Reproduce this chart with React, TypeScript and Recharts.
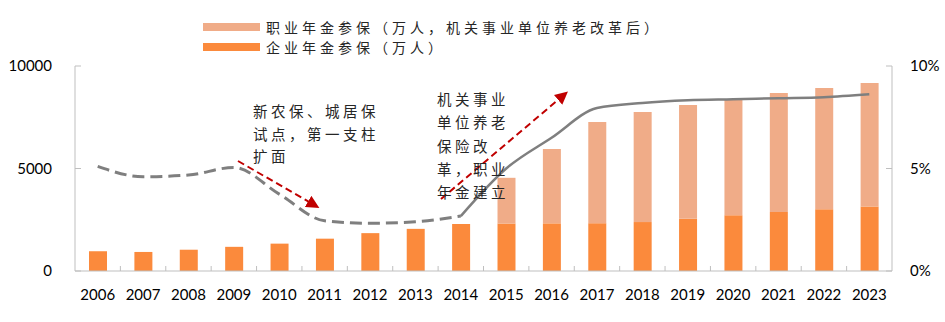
import { ComposedChart, Bar, Line, XAxis, YAxis } from 'recharts';

const years = ['2006', '2007', '2008', '2009', '2010', '2011', '2012', '2013', '2014', '2015', '2016', '2017', '2018', '2019', '2020', '2021', '2022', '2023'];
// 企业年金参保（万人）
const enterprise = [964, 929, 1038, 1179, 1335, 1577, 1847, 2056, 2293, 2316, 2325, 2331, 2388, 2548, 2718, 2875, 3010, 3144];
// 职业年金参保（万人），2015 年机关事业单位养老改革后
const occupational = [null, null, null, null, null, null, null, null, null, 2230, 3630, 4940, 5370, 5550, 5660, 5810, 5920, 6030];
// 右轴比例（%），改革前虚线、改革后实线
const ratioBefore = [5.1, 4.6, 4.68, 5.05, 3.75, 2.45, 2.33, 2.4, 2.68, null, null, null, null, null, null, null, null, null];
const ratioAfter = [null, null, null, null, null, null, null, null, 2.68, 5.0, 6.5, 7.95, 8.2, 8.33, 8.38, 8.43, 8.48, 8.62];
const leftTicks = [0, 5000, 10000];
const rightTicks = [0, 5, 10];

const legendItems = [
  { label: '职业年金参保（万人，机关事业单位养老改革后）', color: '#F0AC88' },
  { label: '企业年金参保（万人）', color: '#FB8A3C' },
];
const noteRural = ['新农保、城居保', '试点，第一支柱', '扩面'];
const noteReform = ['机关事业', '单位养老', '保险改', '革，职业', '年金建立'];

const data = years.map((year, i) => ({
  year,
  enterprise: enterprise[i],
  occupational: occupational[i],
  before: ratioBefore[i],
  after: ratioAfter[i],
}));

const W = 945;
const H = 322;
const PLOT_LEFT = 75;
const PLOT_RIGHT = 892;
const PLOT_BOTTOM = 271;
const BAND = (PLOT_RIGHT - PLOT_LEFT) / years.length;
const AXIS_GREY = '#BFBFBF';
const FONT = 'Lato, "Noto Sans", sans-serif';
const CJK = '"Noto Sans CJK SC", sans-serif';

// eslint-disable-next-line @typescript-eslint/no-explicit-any
const YearTick = (props: any) => {
  const { x, payload, index } = props;
  const bx = x + BAND / 2;
  return (
    <g>
      {index < years.length - 1 && (
        <line x1={bx} x2={bx} y1={PLOT_BOTTOM} y2={PLOT_BOTTOM - 5} stroke={AXIS_GREY} />
      )}
      <text x={x} y={PLOT_BOTTOM + 29} textAnchor="middle" fontSize={15} fontFamily={FONT} fill="#000">
        {payload.value}
      </text>
    </g>
  );
};

export default function App() {
  return (
    <div style={{ position: 'absolute', left: 0, top: 0, width: W, height: H, background: '#fff' }}>
      <ComposedChart
        width={W}
        height={H}
        data={data}
        margin={{ top: 66, right: 3, bottom: 21, left: 15 }}
        barSize={18}
      >
        <XAxis
          dataKey="year"
          height={30}
          axisLine={{ stroke: AXIS_GREY }}
          tickLine={false}
          interval={0}
          tick={<YearTick />}
        />
        <YAxis
          yAxisId="left"
          width={60}
          domain={[0, 10000]}
          ticks={leftTicks}
          axisLine={{ stroke: AXIS_GREY }}
          tickLine={{ stroke: AXIS_GREY }}
          tickSize={-6}
          tickMargin={29}
          tick={{ fontSize: 15, fontFamily: FONT, fill: '#000' }}
        />
        <YAxis
          yAxisId="right"
          orientation="right"
          width={50}
          domain={[0, 10]}
          ticks={rightTicks}
          tickFormatter={(v) => `${v}%`}
          axisLine={{ stroke: AXIS_GREY }}
          tickLine={{ stroke: AXIS_GREY }}
          tickSize={-6}
          tickMargin={24}
          tick={{ fontSize: 15, fontFamily: FONT, fill: '#000', textAnchor: 'start' }}
        />
        <Bar yAxisId="left" dataKey="enterprise" stackId="a" fill="#FB8A3C" isAnimationActive={false} />
        <Bar yAxisId="left" dataKey="occupational" stackId="a" fill="#F0AC88" isAnimationActive={false} />
        <Line
          yAxisId="right"
          type="monotone"
          dataKey="before"
          stroke="#7F7F7F"
          strokeWidth={3}
          strokeDasharray="12 6"
          dot={false}
          connectNulls={false}
          isAnimationActive={false}
        />
        <Line
          yAxisId="right"
          type="monotone"
          dataKey="after"
          stroke="#7F7F7F"
          strokeWidth={2.5}
          dot={false}
          connectNulls={false}
          isAnimationActive={false}
        />
      </ComposedChart>

      <div style={{ position: 'absolute', left: 203, top: 17, fontFamily: CJK, fontSize: 14, color: '#262626' }}>
        {legendItems.map((item) => (
          <div key={item.label} style={{ display: 'flex', alignItems: 'center', height: 20 }}>
            <div style={{ width: 57, height: 8, background: item.color, marginRight: 6 }} />
            <span style={{ letterSpacing: 4, whiteSpace: 'nowrap', lineHeight: '19px', display: 'block' }}>{item.label}</span>
          </div>
        ))}
      </div>

      <svg width={W} height={H} style={{ position: 'absolute', left: 0, top: 0, pointerEvents: 'none' }}>
        <defs>
          <marker id="redHead" viewBox="0 0 10 10" refX="7" refY="5" markerWidth="6.5" markerHeight="6.5" orient="auto">
            <path d="M0,0 L10,5 L0,10 z" fill="#C00000" />
          </marker>
        </defs>
        <line x1={238} y1={161} x2={316} y2={206} stroke="#C00000" strokeWidth={2} strokeDasharray="7 4" markerEnd="url(#redHead)" />
        <line x1={441} y1={199} x2={565} y2={94} stroke="#C00000" strokeWidth={2} strokeDasharray="7 4" markerEnd="url(#redHead)" />
        {noteRural.map((t, i) => (
          <text key={t} x={253} y={117 + i * 22.7} fontSize={14.5} letterSpacing={3.5} fontFamily={CJK} fill="#262626">
            {t}
          </text>
        ))}
        {noteReform.map((t, i) => (
          <text key={t} x={437} y={105 + i * 23.3} fontSize={14.5} letterSpacing={3.5} fontFamily={CJK} fill="#262626">
            {t}
          </text>
        ))}
      </svg>
    </div>
  );
}
